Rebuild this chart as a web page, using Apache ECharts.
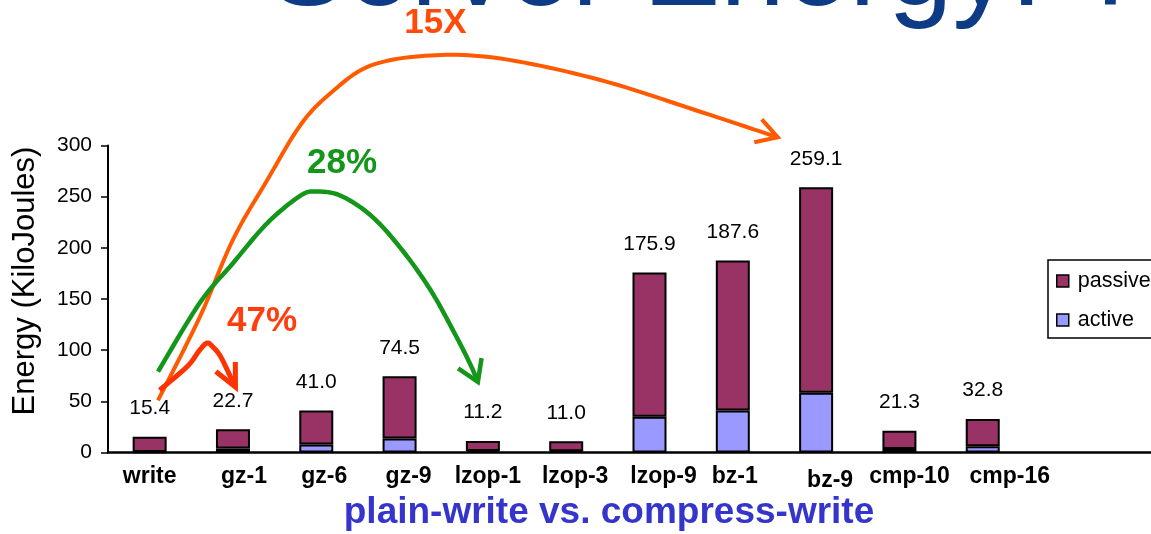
<!DOCTYPE html>
<html>
<head>
<meta charset="utf-8">
<script src="https://cdn.jsdelivr.net/npm/echarts@6/dist/echarts.min.js"></script>
<style>
  html, body { margin: 0; padding: 0; background: #ffffff; }
  #chart { width: 1151px; height: 534px; }
</style>
</head>
<body>
<div id="chart"></div>
<script>
// Energy used to write the data set, plain vs. with each compressor (kJ)
const categories = ['write', 'gz-1', 'gz-6', 'gz-9', 'lzop-1', 'lzop-3', 'lzop-9', 'bz-1', 'bz-9', 'cmp-10', 'cmp-16'];
const totalEnergy = [15.4, 22.7, 41.0, 74.5, 11.2, 11.0, 175.9, 187.6, 259.1, 21.3, 32.8];
const activeEnergy = [0.4, 3.8, 7.8, 13.7, 1.5, 1.3, 35.0, 41.0, 58.5, 3.5, 6.0];
const yTicks = [0, 50, 100, 150, 200, 250, 300];

// Annotation arrows, as [category position, kJ] pairs
const arrow15x = [[0.10, 51], [0.60, 132], [1.00, 208], [1.41, 266], [1.81, 320], [2.17, 351],
                  [2.65, 378], [3.37, 388], [4.21, 385], [5.41, 364], [6.61, 333], [7.54, 308]];
const arrow28 = [[0.10, 79], [0.60, 146], [1.00, 185], [1.41, 224], [1.81, 251], [2.01, 255],
                 [2.29, 251], [2.65, 232], [3.01, 200], [3.37, 159], [3.67, 115], [3.85, 86], [3.94, 69]];
const arrow47 = [[0.12, 61], [0.45, 84], [0.60, 100], [0.69, 107], [0.76, 103], [0.85, 94], [0.97, 74], [1.03, 64]];
const notes = [
  { text: '15X', at: [3.43, 419], color: '#ff4a0a' },
  { text: '28%', at: [2.31, 283], color: '#14961a' },
  { text: '47%', at: [1.35, 128], color: '#ff3d0d' }
];

const passiveEnergy = totalEnergy.map((t, i) => +(t - activeEnergy[i]).toFixed(1));
// two empty slots keep the category axis running on to the right edge
const axisCategories = categories.concat(['', '']);

const FONT = '"Liberation Sans", Arial, Helvetica, sans-serif';

// hand-set nudges of the category captions (px right, px down)
const captionNudge = [[0, 0], [11, 0], [8, 0], [9, 0], [5, 0], [9, 0], [14, 0], [2, 0], [14, 4], [10, 0], [27, 0]];
const captionRich = {};
captionNudge.forEach(([dx, dy], i) => {
  captionRich['c' + i] = {
    fontFamily: FONT, fontSize: 23, fontWeight: 'bold', color: '#000000',
    padding: [dy, 0, 0, 2 * dx]
  };
});

const chart = echarts.init(document.getElementById('chart'), null, { renderer: 'canvas' });

const option = {
  backgroundColor: '#ffffff',
  animation: false,
  textStyle: { fontFamily: FONT },
  grid: { left: 108, right: -40, top: 145.5, bottom: 81.5, containLabel: false, outerBoundsMode: 'none' },
  legend: {
    data: ['passive', 'active'],
    orient: 'vertical',
    left: 1048,
    top: 260,
    padding: [10, 200, 7, 8],
    itemGap: 17,
    itemWidth: 12,
    itemHeight: 12,
    icon: 'rect',
    borderColor: '#000000',
    borderWidth: 1.5,
    borderRadius: 0,
    itemStyle: { borderColor: '#000000', borderWidth: 1.5 },
    textStyle: { fontFamily: FONT, fontSize: 21.5, color: '#000000', padding: [0, 0, 0, 4] }
  },
  xAxis: {
    type: 'category',
    data: axisCategories,
    axisLine: { show: true, lineStyle: { color: '#000000', width: 2.5 } },
    axisTick: { show: false },
    axisLabel: {
      interval: 0,
      margin: 13,
      fontFamily: FONT,
      fontSize: 23,
      fontWeight: 'bold',
      color: '#000000',
      formatter: (value, index) => (value ? '{c' + index + '|' + value + '}' : ''),
      rich: captionRich
    },
    splitLine: { show: false }
  },
  yAxis: {
    type: 'value',
    min: yTicks[0],
    max: yTicks[yTicks.length - 1],
    interval: yTicks[1] - yTicks[0],
    axisLine: { show: true, lineStyle: { color: '#000000', width: 2 } },
    axisTick: { show: true, inside: false, length: 7, lineStyle: { color: '#000000', width: 1.5 } },
    axisLabel: { margin: 16, fontFamily: FONT, fontSize: 21, color: '#000000' },
    splitLine: { show: false }
  },
  series: [
    {
      name: 'active',
      type: 'bar',
      stack: 'energy',
      barWidth: 34,
      data: activeEnergy,
      itemStyle: { color: '#9999ff', borderColor: '#000000', borderWidth: 2 }
    },
    {
      name: 'passive',
      type: 'bar',
      stack: 'energy',
      barWidth: 34,
      data: passiveEnergy,
      itemStyle: { color: '#993366', borderColor: '#000000', borderWidth: 2 },
      label: {
        show: true,
        position: 'top',
        distance: 18,
        fontFamily: FONT,
        fontSize: 21,
        color: '#000000',
        formatter: (p) => totalEnergy[p.dataIndex].toFixed(1)
      }
    }
  ]
};

chart.setOption(option);

// Place the annotations through the axes' own scales
const xa = chart.convertToPixel({ xAxisIndex: 0 }, categories[0]);
const xb = chart.convertToPixel({ xAxisIndex: 0 }, categories[1]);
const toPx = ([c, v]) => [xa + (xb - xa) * c, chart.convertToPixel({ yAxisIndex: 0 }, v)];

// Catmull-Rom pass so the hand-drawn arrows bend smoothly
function smoothPath(px, steps) {
  const out = [];
  for (let i = 0; i < px.length - 1; i++) {
    const p0 = px[Math.max(i - 1, 0)], p1 = px[i], p2 = px[i + 1], p3 = px[Math.min(i + 2, px.length - 1)];
    for (let s = 0; s < steps; s++) {
      const t = s / steps, t2 = t * t, t3 = t2 * t;
      const f = (a, b, c, d) => 0.5 * (2 * b + (-a + c) * t + (2 * a - 5 * b + 4 * c - d) * t2 + (-a + 3 * b - 3 * c + d) * t3);
      out.push([f(p0[0], p1[0], p2[0], p3[0]), f(p0[1], p1[1], p2[1], p3[1])]);
    }
  }
  out.push(px[px.length - 1]);
  return out;
}

function arrowShapes(pts, color, width, headLen, headAngle) {
  const px = pts.map(toPx);
  const tip = px[px.length - 1];
  const prev = px[px.length - 2];
  const a = Math.atan2(tip[1] - prev[1], tip[0] - prev[0]);
  const b1 = [tip[0] - headLen * Math.cos(a - headAngle), tip[1] - headLen * Math.sin(a - headAngle)];
  const b2 = [tip[0] - headLen * Math.cos(a + headAngle), tip[1] - headLen * Math.sin(a + headAngle)];
  return [
    { type: 'polyline', silent: true, z: 100, shape: { points: smoothPath(px, 12) },
      style: { stroke: color, lineWidth: width, fill: null, lineCap: 'butt', lineJoin: 'round' } },
    { type: 'polyline', silent: true, z: 100, shape: { points: [b1, tip, b2] },
      style: { stroke: color, lineWidth: width, fill: null, lineJoin: 'miter' } }
  ];
}

const elements = [];
elements.push(...arrowShapes(arrow15x, '#ff5a00', 4, 24, Math.PI / 6));
elements.push(...arrowShapes(arrow28, '#14961a', 4.5, 24, Math.PI / 5.6));
elements.push(...arrowShapes(arrow47, '#ff3300', 5, 25, Math.PI / 7));

notes.forEach((n) => {
  const p = toPx(n.at);
  elements.push({
    type: 'text', silent: true, z: 101, x: p[0], y: p[1],
    style: { text: n.text, fill: n.color, font: 'bold 35px ' + FONT, align: 'center', verticalAlign: 'middle' }
  });
});

// Slide heading (mostly above the frame) and the axis captions
elements.push({
  type: 'text', silent: true, z: 99, x: 269, y: -27,
  style: { text: 'Server Energy: T', fill: '#0d3b85', font: '116px ' + FONT, align: 'left', verticalAlign: 'middle' }
});
elements.push({
  type: 'text', silent: true, z: 101, x: 609, y: 513,
  style: { text: 'plain-write vs. compress-write', fill: '#3535cc', font: 'bold 37px ' + FONT, align: 'center', verticalAlign: 'middle' }
});
elements.push({
  type: 'text', silent: true, z: 101, x: 25.5, y: 281, rotation: Math.PI / 2,
  style: { text: 'Energy (KiloJoules)', fill: '#000000', font: '31px ' + FONT, align: 'center', verticalAlign: 'middle' }
});

chart.setOption({ graphic: { elements: elements } });
</script>
</body>
</html>
